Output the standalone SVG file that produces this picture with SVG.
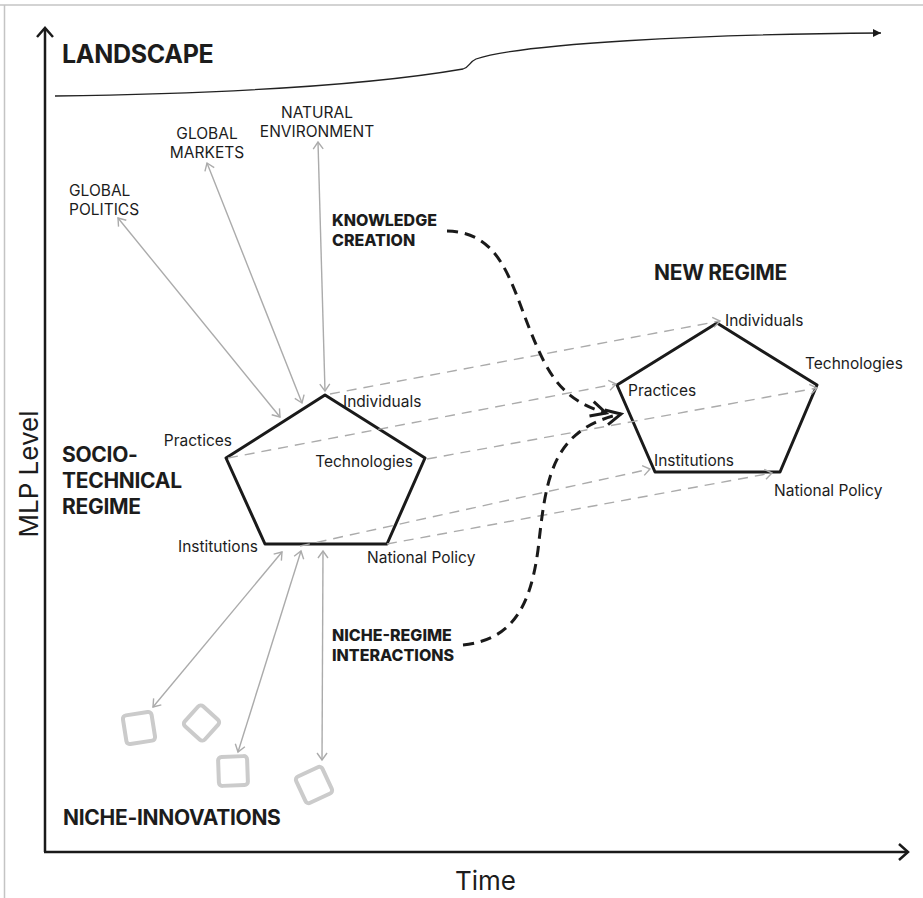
<svg xmlns="http://www.w3.org/2000/svg" width="923" height="898" viewBox="0 0 923 898">
<style>
  text { font-family: Inter, "Liberation Sans", Arial, sans-serif; fill: #1c1c1c; }
  .h1 { font-size: 25px; font-weight: 700; letter-spacing: -0.3px; }
  .h2 { font-size: 21px; font-weight: 700; letter-spacing: -0.3px; }
  .h3 { font-size: 16px; font-weight: 800; }
  .cap { font-size: 15.5px; }
  .lbl { font-size: 15.5px; }
  .ax { font-size: 26px; }
  .penta { fill: none; stroke: #1a1a1a; stroke-width: 3; stroke-linejoin: round; }
  .sq { fill: none; stroke: #cbcbcb; stroke-width: 4; }
  .gl { fill: none; stroke: #ababab; stroke-width: 1.4; }
  .gd { fill: none; stroke: #ababab; stroke-width: 1.4; stroke-dasharray: 10 7; }
  .bd { fill: none; stroke: #1a1a1a; stroke-width: 3; stroke-dasharray: 11 7; }
  .axis { fill: none; stroke: #1a1a1a; stroke-width: 2.5; }
</style>
<defs>
  <marker id="ag" markerUnits="userSpaceOnUse" viewBox="0 0 12 12" markerWidth="12" markerHeight="12" refX="10" refY="6" orient="auto-start-reverse">
    <path d="M3,1 L10,6 L3,11" fill="none" stroke="#ababab" stroke-width="1.4"/>
  </marker>
  <marker id="ab" markerUnits="userSpaceOnUse" viewBox="0 0 20 20" markerWidth="20" markerHeight="20" refX="17" refY="10" orient="auto">
    <path d="M2,2.5 L17,10 L2,17.5" fill="none" stroke="#1a1a1a" stroke-width="3" stroke-linejoin="miter"/>
  </marker>
  <marker id="ax" markerUnits="userSpaceOnUse" viewBox="0 0 20 20" markerWidth="20" markerHeight="20" refX="17" refY="10" orient="auto">
    <path d="M8,2 L17,10 L8,18" fill="none" stroke="#1a1a1a" stroke-width="2.5"/>
  </marker>
  <marker id="at" markerUnits="userSpaceOnUse" viewBox="0 0 12 12" markerWidth="12" markerHeight="12" refX="10" refY="6" orient="auto">
    <path d="M2,2 L10,6 L2,10 Z" fill="#1a1a1a"/>
  </marker>
</defs>
<rect width="923" height="898" fill="#ffffff"/>
<g id="frame" stroke="#c4c4c4" stroke-width="1.5" fill="none">
  <line x1="0" y1="5" x2="923" y2="5"/>
  <line x1="4.5" y1="5" x2="4.5" y2="898"/>
</g>

<g id="axes">
  <path class="axis" d="M45,852 V28" marker-end="url(#ax)"/>
  <path class="axis" d="M44,852 H908" marker-end="url(#ax)"/>
  <text class="ax" transform="translate(38,474) rotate(-90)" text-anchor="middle">MLP Level</text>
  <text class="ax" x="455" y="890">Time</text>
</g>

<g id="landscape">
  <path d="M55,96 Q330,92 463,69 C470,67 469,62 476,59 C520,44 700,34 881,33" fill="none" stroke="#222" stroke-width="1.3" marker-end="url(#at)"/>
  <text class="h1" x="62" y="63">LANDSCAPE</text>
</g>

<g id="natural-environment">
  <text class="cap" x="317" y="118" text-anchor="middle">NATURAL</text>
  <text class="cap" x="317" y="137" text-anchor="middle">ENVIRONMENT</text>
</g>
<g id="global-markets">
  <text class="cap" x="207" y="139" text-anchor="middle">GLOBAL</text>
  <text class="cap" x="207" y="158" text-anchor="middle">MARKETS</text>
</g>
<g id="global-politics">
  <text class="cap" x="69" y="196">GLOBAL</text>
  <text class="cap" x="69" y="215">POLITICS</text>
</g>

<g id="knowledge-creation">
  <text class="h3" x="332" y="226">KNOWLEDGE</text>
  <text class="h3" x="332" y="246">CREATION</text>
</g>
<g id="niche-regime-interactions">
  <text class="h3" x="332" y="641">NICHE-REGIME</text>
  <text class="h3" x="332" y="661">INTERACTIONS</text>
</g>

<g id="socio-technical-regime">
  <text class="h2" x="62" y="462">SOCIO-</text>
  <text class="h2" x="62" y="488">TECHNICAL</text>
  <text class="h2" x="62" y="514">REGIME</text>
  <polygon class="penta" points="325,395 425,458 387,544 265,544 226,458"/>
  <text class="lbl" x="343" y="407">Individuals</text>
  <text class="lbl" x="232" y="446" text-anchor="end">Practices</text>
  <text class="lbl" x="413" y="467" text-anchor="end">Technologies</text>
  <text class="lbl" x="258" y="552" text-anchor="end">Institutions</text>
  <text class="lbl" x="367" y="563">National Policy</text>
</g>

<g id="new-regime">
  <text class="h2" x="654" y="280">NEW REGIME</text>
  <polygon class="penta" points="717,323 817,385 780,472 655,472 617,385"/>
  <text class="lbl" x="725" y="326">Individuals</text>
  <text class="lbl" x="805" y="369">Technologies</text>
  <text class="lbl" x="628" y="396">Practices</text>
  <text class="lbl" x="654" y="466">Institutions</text>
  <text class="lbl" x="774" y="496">National Policy</text>
</g>

<g id="niche-innovations">
  <rect class="sq" x="-14.5" y="-14.5" width="29" height="29" rx="3.5" transform="translate(139,728) rotate(-9)"/>
  <rect class="sq" x="-13.5" y="-13.5" width="27" height="27" rx="3.5" transform="translate(201.5,723) rotate(42)"/>
  <rect class="sq" x="-14.5" y="-14.5" width="29" height="29" rx="3.5" transform="translate(233,771) rotate(-2)"/>
  <rect class="sq" x="-14.5" y="-14.5" width="29" height="29" rx="3.5" transform="translate(314,785) rotate(-25)"/>
  <text class="h2" x="63" y="825">NICHE-INNOVATIONS</text>
</g>

<g id="connectors">
  <path class="gl" d="M118,218 L280,417" marker-start="url(#ag)" marker-end="url(#ag)"/>
  <path class="gl" d="M207,163 L302,403" marker-start="url(#ag)" marker-end="url(#ag)"/>
  <path class="gl" d="M318,142 L325,391" marker-start="url(#ag)" marker-end="url(#ag)"/>
  <path class="gl" d="M282,552 L153,707" marker-start="url(#ag)" marker-end="url(#ag)"/>
  <path class="gl" d="M301,551 L238,752" marker-start="url(#ag)" marker-end="url(#ag)"/>
  <path class="gl" d="M323,551 L322,760" marker-start="url(#ag)" marker-end="url(#ag)"/>

  <path class="gd" d="M330,394 L720,321" marker-end="url(#ag)"/>
  <path class="gd" d="M228,458 L616,384" marker-end="url(#ag)"/>
  <path class="gd" d="M427,459 L817,388" marker-end="url(#ag)"/>
  <path class="gd" d="M300,546 L650,469" marker-end="url(#ag)"/>
  <path class="gd" d="M387,544 L772,473" marker-end="url(#ag)"/>

  <path class="bd" d="M447,231 C500,232 510,280 530,330 C548,375 562,400 606,413" marker-end="url(#ab)"/>
  <path class="bd" d="M463,645 C510,640 530,610 538,550 C546,480 550,430 621,414" marker-end="url(#ab)"/>
</g>
</svg>
